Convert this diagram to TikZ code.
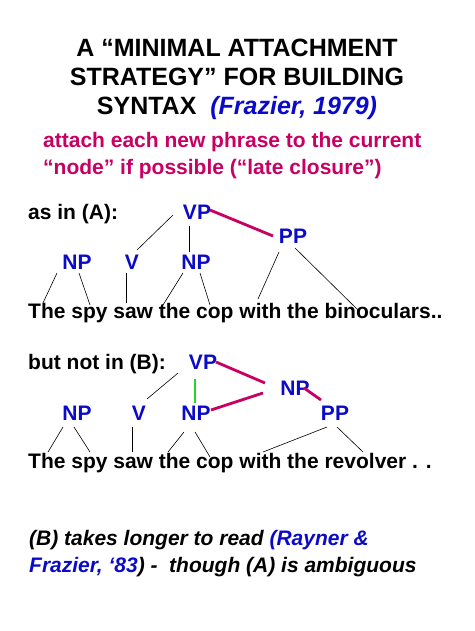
\documentclass[tikz,border=0pt]{standalone}
\usepackage{fontspec}
\setmainfont{Liberation Sans}
\definecolor{tblue}{RGB}{10,10,200}
\definecolor{tmag}{RGB}{200,0,100}
\definecolor{tgreen}{RGB}{40,210,40}
\tikzset{
  txt/.style={inner sep=0pt, font=\bfseries\fontsize{21}{25}\selectfont},
  lab/.style={txt, text=tblue, anchor=base},
  thin/.style={draw=black, line width=0.6pt},
  thickm/.style={draw=tmag, line width=2.8pt},
  thickg/.style={draw=tgreen, line width=2.8pt},
}
\begin{document}
\begin{tikzpicture}[x=1pt,y=-1pt]
\useasboundingbox (0,0) rectangle (474,631);
% title
\node[txt, font=\bfseries\fontsize{25}{29}\selectfont, anchor=base] (t1) at (237,57) {A “MINIMAL ATTACHMENT};
\node[txt, font=\bfseries\fontsize{25}{29}\selectfont, anchor=base] (t2) at (237,86) {STRATEGY” FOR BUILDING};
\node[txt, font=\bfseries\fontsize{25}{29}\selectfont, anchor=base] (t3) at (237,115) {SYNTAX\ \ \textcolor{tblue}{\itshape (Frazier, 1979)}};
\node[txt, text=tmag, anchor=base west, font=\bfseries\fontsize{21}{25}\selectfont] (s1) at (43,148) {attach each new phrase to the current};
\node[txt, text=tmag, anchor=base west, font=\bfseries\fontsize{21}{25}\selectfont] (s2) at (43,175) {“node” if possible (“late closure”)};
% tree A
\node[txt, anchor=base west] (asA) at (28,219) {as in (A):};
\node[lab] (vpA) at (197,219) {VP};
\node[lab] (ppA) at (293,243) {PP};
\node[lab] (np1A) at (77,269) {NP};
\node[lab] (vA) at (132,269) {V};
\node[lab] (np2A) at (196,269) {NP};
\node[txt, anchor=base west] (senA) at (28,318) {The spy saw the cop with the binoculars..};
\coordinate (a1) at (173,215); \coordinate (a2) at (137,250);
\coordinate (a3) at (189,226); \coordinate (a4) at (189,252);
\coordinate (a5) at (210,210); \coordinate (a6) at (273,236);
\coordinate (a7) at (279,252); \coordinate (a8) at (258,299);
\coordinate (a9) at (295,248); \coordinate (a10) at (358,310);
\coordinate (a11) at (57,273); \coordinate (a12) at (43,303);
\coordinate (a13) at (79,273); \coordinate (a14) at (90,305);
\coordinate (a15) at (126,273); \coordinate (a16) at (126,303);
\coordinate (a17) at (183,273); \coordinate (a18) at (163,305);
\coordinate (a19) at (200,273); \coordinate (a20) at (210,305);
\draw[thin] (a1) -- (a2);
\draw[thin] (a3) -- (a4);
\draw[thickm] (a5) -- (a6);
\draw[thin] (a7) -- (a8);
\draw[thin] (a9) -- (a10);
\draw[thin] (a11) -- (a12);
\draw[thin] (a13) -- (a14);
\draw[thin] (a15) -- (a16);
\draw[thin] (a17) -- (a18);
\draw[thin] (a19) -- (a20);
% tree B
\node[txt, anchor=base west] (asB) at (28,369) {but not in (B):};
\node[lab] (vpB) at (203,369) {VP};
\node[lab] (np3B) at (295,395) {NP};
\node[lab] (np1B) at (77,420) {NP};
\node[lab] (vB) at (139,420) {V};
\node[lab] (np2B) at (196,420) {NP};
\node[lab] (ppB) at (335,420) {PP};
\node[txt, anchor=base west] (senB) at (28,468) {The spy saw the cop with the revolver . .};
\coordinate (b1) at (178,373); \coordinate (b2) at (147,399);
\coordinate (b3) at (195,379); \coordinate (b4) at (195,403);
\coordinate (b5) at (216,362); \coordinate (b6) at (265,383);
\coordinate (b7) at (263,393); \coordinate (b8) at (211,410);
\coordinate (b9) at (304,388); \coordinate (b10) at (321,400);
\coordinate (b11) at (63,427); \coordinate (b12) at (48,452);
\coordinate (b13) at (74,427); \coordinate (b14) at (90,452);
\coordinate (b15) at (132,427); \coordinate (b16) at (132,452);
\coordinate (b17) at (184,432); \coordinate (b18) at (168,452);
\coordinate (b19) at (195,432); \coordinate (b20) at (210,457);
\coordinate (b21) at (327,427); \coordinate (b22) at (263,452);
\coordinate (b23) at (337,427); \coordinate (b24) at (363,452);
\draw[thin] (b1) -- (b2);
\draw[thickg] (b3) -- (b4);
\draw[thickm] (b5) -- (b6);
\draw[thickm] (b7) -- (b8);
\draw[thickm] (b9) -- (b10);
\draw[thin] (b11) -- (b12);
\draw[thin] (b13) -- (b14);
\draw[thin] (b15) -- (b16);
\draw[thin] (b17) -- (b18);
\draw[thin] (b19) -- (b20);
\draw[thin] (b21) -- (b22);
\draw[thin] (b23) -- (b24);
% bottom
\node[txt, anchor=base west, font=\bfseries\itshape\fontsize{21}{25}\selectfont] (c1) at (29,545) {(B) takes longer to read \textcolor{tblue}{(Rayner \&}};
\node[txt, anchor=base west, font=\bfseries\itshape\fontsize{21}{25}\selectfont] (c2) at (29,572) {\textcolor{tblue}{Frazier, ‘83}) -\ \ though (A) is ambiguous};
\end{tikzpicture}
\end{document}
